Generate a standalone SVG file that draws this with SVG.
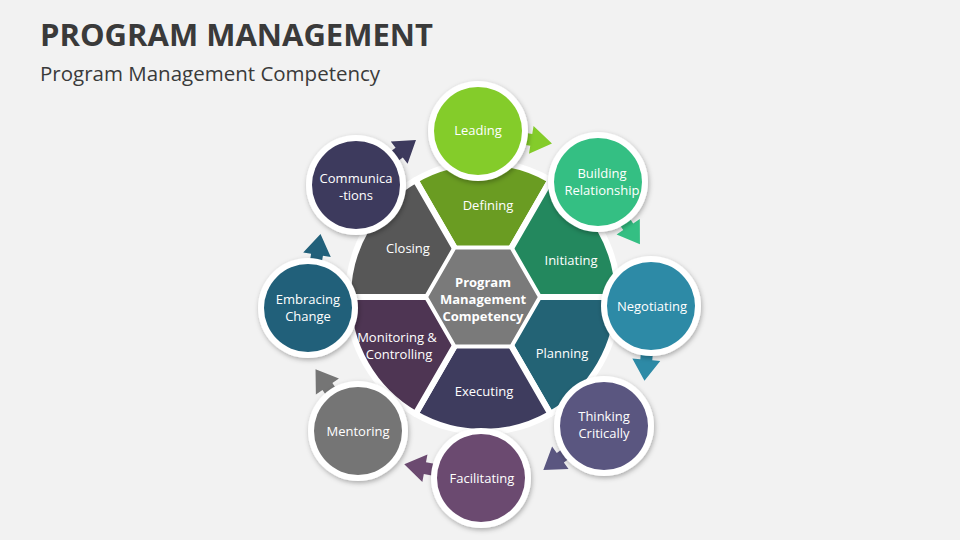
<svg xmlns="http://www.w3.org/2000/svg" width="960" height="540" viewBox="0 0 960 540">
<defs>
<filter id="sh" x="-30%" y="-30%" width="160%" height="160%"><feDropShadow dx="1" dy="2" stdDeviation="2.5" flood-color="#000" flood-opacity="0.3"/></filter>
<path id="ar" d="M0,-6 L54,-6 L54,-14 L75,0 L54,14 L54,6 L0,6 Z"/>
</defs>
<style>
.t{font-family:"Open Sans","Liberation Sans",sans-serif;fill:#fff;font-size:13px;text-anchor:middle}
.sec{stroke:#fff;stroke-width:6;stroke-linejoin:round}
.ring{fill:#fff;filter:url(#sh)}
</style>
<rect width="960" height="540" fill="#f2f2f2"/>
<text x="40" y="46" font-family="'Open Sans','Liberation Sans',sans-serif" font-weight="bold" font-size="31" fill="#3a3a3a">PROGRAM MANAGEMENT</text>
<text x="40" y="81" font-family="'Open Sans','Liberation Sans',sans-serif" font-size="20.5" fill="#3a3a3a">Program Management Competency</text>
<g id="sectors">
<g id="defining"><path class="sec" fill="#6a9c22" d="M456,250.2 L415.5,180.1 A135,135 0 0 1 550.5,180.1 L510,250.2 Z"/><text class="t" x="488" y="210">Defining</text></g>
<g id="initiating"><path class="sec" fill="#23885e" d="M510,250.2 L550.5,180.1 A135,135 0 0 1 618,297 L537,297 Z"/><text class="t" x="571" y="265">Initiating</text></g>
<g id="planning"><path class="sec" fill="#236375" d="M537,297 L618,297 A135,135 0 0 1 550.5,413.9 L510,343.8 Z"/><text class="t" x="562" y="358">Planning</text></g>
<g id="executing"><path class="sec" fill="#3e3c5e" d="M510,343.8 L550.5,413.9 A135,135 0 0 1 415.5,413.9 L456,343.8 Z"/><text class="t" x="484" y="396">Executing</text></g>
<g id="monitoring"><path class="sec" fill="#4e3553" d="M456,343.8 L415.5,413.9 A135,135 0 0 1 348,297 L429,297 Z"/><text class="t" x="397" y="342">Monitoring &amp;</text><text class="t" x="399" y="359">Controlling</text></g>
<g id="closing"><path class="sec" fill="#575757" d="M429,297 L348,297 A135,135 0 0 1 415.5,180.1 L456,250.2 Z"/><text class="t" x="408" y="253">Closing</text></g>
</g>
<g id="center"><polygon points="540,297 511.5,346.4 454.5,346.4 426,297 454.5,247.6 511.5,247.6" fill="#7a7a7a" stroke="#fff" stroke-width="4"/>
<text class="t" font-weight="bold" font-size="12" x="483" y="287">Program</text><text class="t" font-weight="bold" font-size="12" x="483" y="304">Management</text><text class="t" font-weight="bold" font-size="12" x="483" y="321">Competency</text></g>
<g id="connectors">
<use href="#ar" fill="#84cc2a" transform="translate(478,131) rotate(9.5)"/>
<use href="#ar" fill="#34bf83" transform="translate(598,182) rotate(56)"/>
<use href="#ar" fill="#2d8aa6" transform="translate(651,306) rotate(95)"/>
<use href="#ar" fill="#5a5680" transform="translate(604,426) rotate(144)"/>
<use href="#ar" fill="#6b4a70" transform="translate(478,478) rotate(190.5)"/>
<use href="#ar" fill="#757575" transform="translate(358,431) rotate(235.5)"/>
<use href="#ar" fill="#21607a" transform="translate(308,308) rotate(-80.4)"/>
<use href="#ar" fill="#3d3a5d" transform="translate(356,185) rotate(-36.9)"/>
</g>
<g id="leading"><circle class="ring" cx="478" cy="131" r="50"/><circle cx="478" cy="131" r="44" fill="#84cc2a"/><text class="t" x="478" y="135">Leading</text></g>
<g id="building"><circle class="ring" cx="598" cy="182" r="50"/><circle cx="598" cy="182" r="44" fill="#34bf83"/><text class="t" x="602" y="178">Building</text><text class="t" x="602" y="195">Relationship</text></g>
<g id="negotiating"><circle class="ring" cx="651" cy="306" r="50"/><circle cx="651" cy="306" r="44" fill="#2d8aa6"/><text class="t" x="652" y="311">Negotiating</text></g>
<g id="thinking"><circle class="ring" cx="604" cy="426" r="50"/><circle cx="604" cy="426" r="44" fill="#5a5680"/><text class="t" x="604" y="421">Thinking</text><text class="t" x="604" y="438">Critically</text></g>
<g id="facilitating"><circle class="ring" cx="481" cy="478" r="50"/><circle cx="481" cy="478" r="44" fill="#6b4a70"/><text class="t" x="482" y="483">Facilitating</text></g>
<g id="mentoring"><circle class="ring" cx="358" cy="431" r="50"/><circle cx="358" cy="431" r="44" fill="#757575"/><text class="t" x="358" y="436">Mentoring</text></g>
<g id="embracing"><circle class="ring" cx="308" cy="308" r="50"/><circle cx="308" cy="308" r="44" fill="#21607a"/><text class="t" x="308" y="304">Embracing</text><text class="t" x="308" y="321">Change</text></g>
<g id="communications"><circle class="ring" cx="356" cy="185" r="50"/><circle cx="356" cy="185" r="44" fill="#3d3a5d"/><text class="t" x="356" y="183">Communica</text><text class="t" x="356" y="200">-tions</text></g>
</svg>
